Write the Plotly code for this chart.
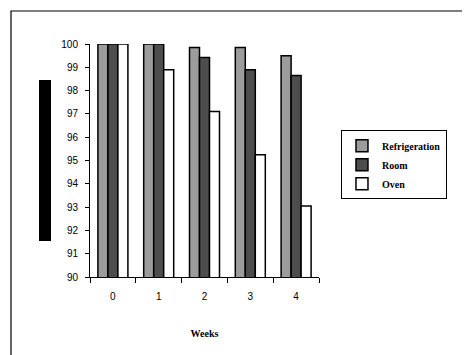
import plotly.graph_objects as go

weeks = ["0", "1", "2", "3", "4"]
refrigeration = [100, 100, 99.85, 99.85, 99.5]
room = [100, 100, 99.42, 98.9, 98.65]
oven = [100, 98.9, 97.1, 95.25, 93.05]
y_ticks = [90, 91, 92, 93, 94, 95, 96, 97, 98, 99, 100]

series = [
    ("Refrigeration", refrigeration, "#9c9c9c"),
    ("Room", room, "#4d4d4d"),
    ("Oven", oven, "#ffffff"),
]

fig = go.Figure()
for name, vals, col in series:
    fig.add_trace(go.Bar(
        x=weeks, y=vals, name=name,
        marker=dict(color=col, line=dict(color="black", width=1.5)),
    ))

fig.update_layout(
    width=462, height=347,
    margin=dict(l=82, r=151, t=36, b=78),
    paper_bgcolor="white", plot_bgcolor="white",
    barmode="group", bargap=0.345, bargroupgap=0,
    font=dict(family="Liberation Sans, Arial", size=10, color="black"),
    showlegend=True,
    legend=dict(
        x=1.096, y=0.63, xanchor="left", yanchor="top",
        bordercolor="black", borderwidth=1, bgcolor="white",
        font=dict(family="Liberation Serif, Times New Roman", size=10, color="black", weight="bold"),
        traceorder="normal", itemwidth=30, tracegroupgap=0,
        entrywidth=109, entrywidthmode="pixels",
    ),
    xaxis=dict(
        type="category", showline=True, linecolor="black", linewidth=1,
        ticks="outside", ticklen=5, tickcolor="black", tickson="boundaries",
        showgrid=False, zeroline=False, ticklabelstandoff=10,
        title=dict(text="Weeks", standoff=28,
                   font=dict(family="Liberation Serif, Times New Roman", size=10, weight="bold")),
    ),
    yaxis=dict(
        range=[90, 100], tickvals=y_ticks, showline=True, linecolor="black", linewidth=1,
        ticks="outside", ticklen=4, tickcolor="black", showgrid=False, zeroline=False,
        ticklabelstandoff=5,
    ),
    shapes=[
        dict(type="rect", xref="paper", yref="paper",
             x0=(11 - 90) / 229, x1=(475 - 90) / 229,
             y0=(277 - 360) / 233, y1=1 + (44 - 11) / 233,
             line=dict(color="black", width=1.2), fillcolor="rgba(0,0,0,0)", layer="below"),
        dict(type="rect", xref="paper", yref="paper",
             x0=(39 - 90) / 229, x1=(51 - 90) / 229,
             y0=1 - (241 - 44) / 233, y1=1 - (80 - 44) / 233,
             line=dict(width=0), fillcolor="black"),
    ],
)

fig.write_html("out.html")
